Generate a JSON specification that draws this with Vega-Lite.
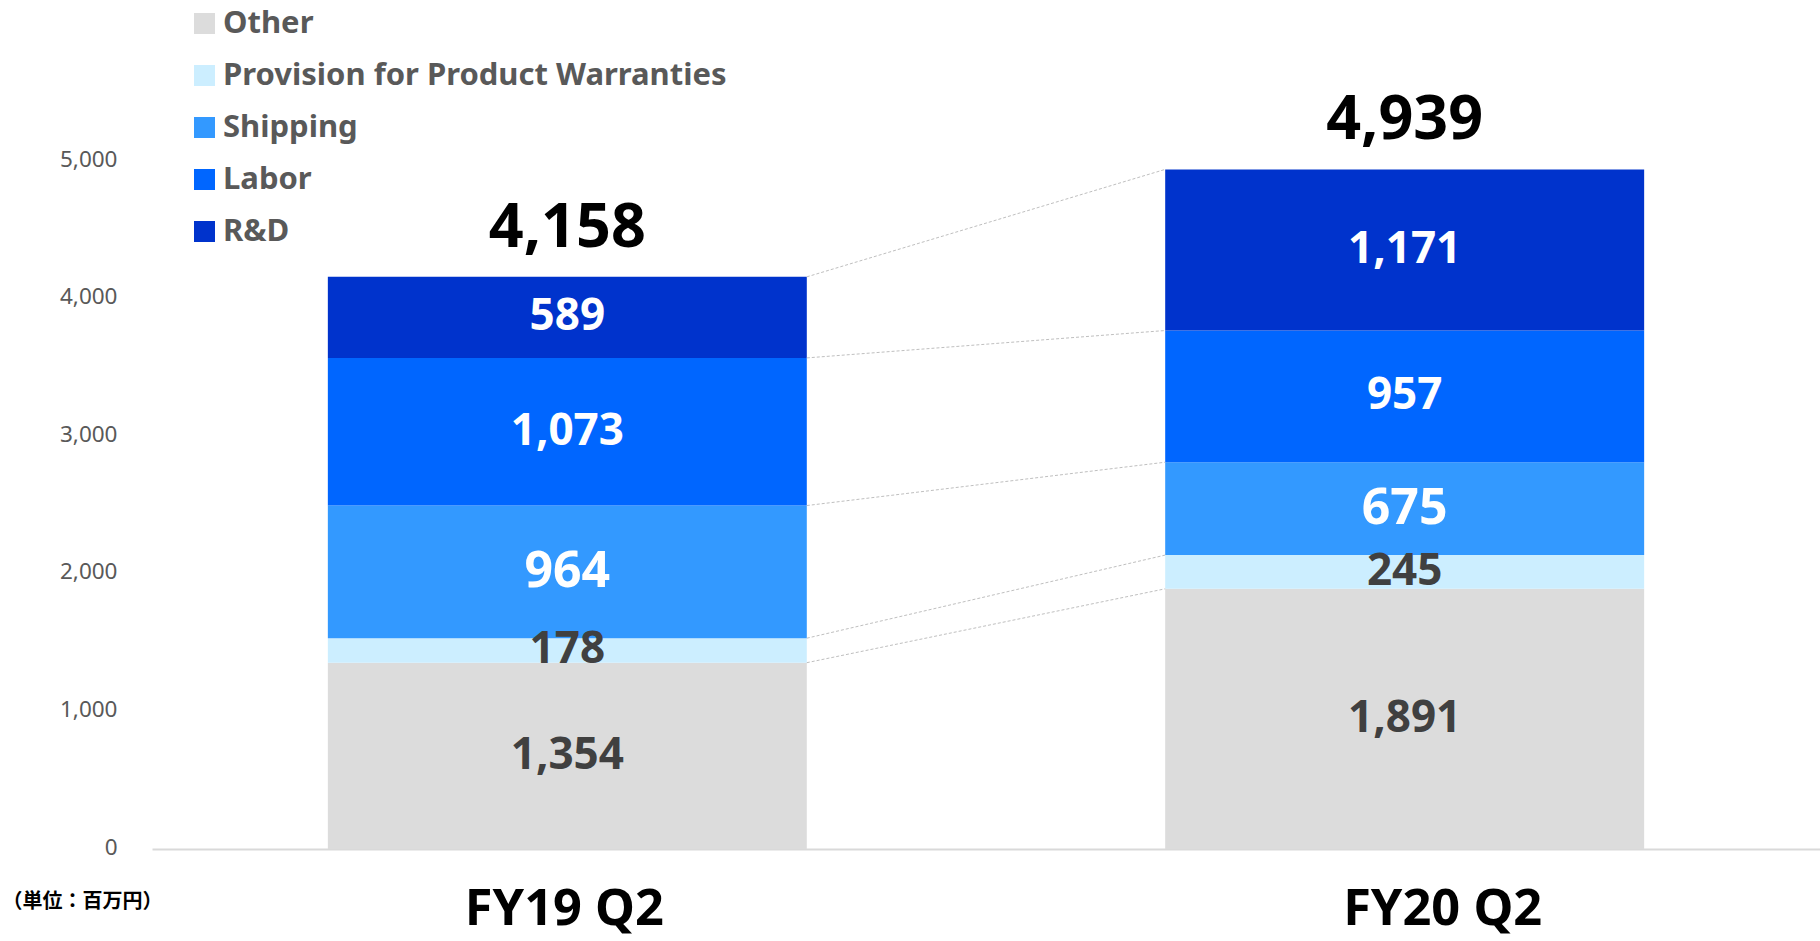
{
  "$schema": "https://vega.github.io/schema/vega-lite/v6.json",
  "width": 1668,
  "height": 688,
  "autosize": {"type": "none"},
  "padding": {"left": 152, "top": 161, "right": 0, "bottom": 92},
  "background": "white",
  "config": {
    "view": {"stroke": null},
    "axisX": {
      "labelAngle": 0,
      "ticks": false,
      "domain": true,
      "domainColor": "#D9D9D9",
      "domainWidth": 2,
      "grid": false,
      "labelFont": "Noto Sans",
      "labelFontWeight": "bold",
      "labelFontSize": 50.5,
      "labelColor": "#000000",
      "labelPadding": 35,
      "labelLimit": 600
    },
    "axisY": {
      "titleAngle": 0,
      "titleAlign": "left",
      "titleBaseline": "middle",
      "titleX": -150,
      "titleY": 740,
      "titleFont": "Noto Sans CJK JP",
      "titleFontSize": 20,
      "titleFontWeight": "bold",
      "titleColor": "#000000",
      "ticks": false,
      "domain": false,
      "grid": false,
      "labelFont": "Noto Sans",
      "labelFontSize": 22.5,
      "labelColor": "#595959",
      "labelPadding": 35,
      "labelOffset": -2,
      "labelExpr": "format(datum.value, ',')"
    }
  },
  "data": {
    "values": [
      {"cat": "FY19 Q2", "item": "Other", "idx": 1, "value": 1354},
      {"cat": "FY19 Q2", "item": "Provision for Product Warranties", "idx": 2, "value": 178},
      {"cat": "FY19 Q2", "item": "Shipping", "idx": 3, "value": 964},
      {"cat": "FY19 Q2", "item": "Labor", "idx": 4, "value": 1073},
      {"cat": "FY19 Q2", "item": "R&D", "idx": 5, "value": 589},
      {"cat": "FY20 Q2", "item": "Other", "idx": 1, "value": 1891},
      {"cat": "FY20 Q2", "item": "Provision for Product Warranties", "idx": 2, "value": 245},
      {"cat": "FY20 Q2", "item": "Shipping", "idx": 3, "value": 675},
      {"cat": "FY20 Q2", "item": "Labor", "idx": 4, "value": 957},
      {"cat": "FY20 Q2", "item": "R&D", "idx": 5, "value": 1171}
    ]
  },
  "transform": [
    {"stack": "value", "groupby": ["cat"], "sort": [{"field": "idx", "order": "ascending"}], "as": ["y0", "y1"]}
  ],
  "layer": [
    {
      "mark": {"type": "bar"},
      "encoding": {
        "x": {
          "field": "cat",
          "type": "nominal",
          "sort": ["FY19 Q2", "FY20 Q2"],
          "scale": {"paddingInner": 0.428, "paddingOuter": 0.21},
          "axis": {"title": null, "labelOffset": {"condition": {"test": "datum.value === 'FY20 Q2'", "value": 38}, "value": -3}}
        },
        "y": {
          "field": "y1",
          "type": "quantitative",
          "scale": {"domain": [0, 5000], "nice": false},
          "axis": {"title": "（単位：百万円）", "values": [0, 1000, 2000, 3000, 4000, 5000]}
        },
        "y2": {"field": "y0"},
        "color": {
          "field": "item",
          "type": "nominal",
          "scale": {
            "domain": ["Other", "Provision for Product Warranties", "Shipping", "Labor", "R&D"],
            "range": ["#DCDCDC", "#CCEEFF", "#3399FF", "#0066FF", "#0033CC"]
          },
          "legend": {
            "orient": "none",
            "legendX": 37,
            "legendY": -153,
            "title": null,
            "symbolType": "square",
            "symbolSize": 441,
            "symbolStrokeWidth": 0,
            "labelFont": "Noto Sans",
            "labelFontSize": 31,
            "labelFontWeight": "bold",
            "labelColor": "#595959",
            "labelOffset": 3,
            "rowPadding": 20,
            "labelLimit": 1000
          }
        }
      }
    },
    {
      "transform": [{"calculate": "(datum.y0 + datum.y1) / 2", "as": "mid"}],
      "mark": {"type": "text", "font": "Noto Sans", "fontWeight": "bold", "baseline": "middle", "align": "center"},
      "encoding": {
        "x": {"field": "cat", "type": "nominal", "sort": ["FY19 Q2", "FY20 Q2"], "axis": {"title": null, "labelOffset": {"condition": {"test": "datum.value === 'FY20 Q2'", "value": 38}, "value": -3}}},
        "y": {"field": "mid", "type": "quantitative", "axis": {"title": "（単位：百万円）", "values": [0, 1000, 2000, 3000, 4000, 5000]}},
        "text": {"field": "value", "type": "quantitative", "format": ","},
        "color": {"condition": {"test": "datum.idx <= 2", "value": "#404040"}, "value": "#FFFFFF"},
        "size": {"condition": {"test": "datum.idx == 3", "value": 50}, "value": 44}
      }
    },
    {
      "mark": {"type": "text", "font": "Noto Sans", "fontWeight": "bold", "baseline": "alphabetic", "align": "center", "dy": -30, "fontSize": 61, "color": "#000000"},
      "encoding": {
        "x": {"field": "cat", "type": "nominal", "sort": ["FY19 Q2", "FY20 Q2"], "axis": {"title": null, "labelOffset": {"condition": {"test": "datum.value === 'FY20 Q2'", "value": 38}, "value": -3}}},
        "y": {"aggregate": "sum", "field": "value", "type": "quantitative", "axis": {"title": "（単位：百万円）", "values": [0, 1000, 2000, 3000, 4000, 5000]}},
        "text": {"aggregate": "sum", "field": "value", "type": "quantitative", "format": ","}
      }
    },
    {
      "transform": [{"pivot": "cat", "value": "y1", "groupby": ["item"]}],
      "mark": {"type": "rule", "color": "#BFBFBF", "strokeWidth": 1, "strokeDash": [3, 2]},
      "encoding": {
        "x": {"datum": "FY19 Q2", "type": "nominal", "bandPosition": 1, "axis": {"title": null, "labelOffset": {"condition": {"test": "datum.value === 'FY20 Q2'", "value": 38}, "value": -3}}},
        "x2": {"datum": "FY20 Q2", "bandPosition": 0},
        "y": {"field": "FY19 Q2", "type": "quantitative", "axis": {"title": "（単位：百万円）", "values": [0, 1000, 2000, 3000, 4000, 5000]}},
        "y2": {"field": "FY20 Q2"}
      }
    }
  ]
}
